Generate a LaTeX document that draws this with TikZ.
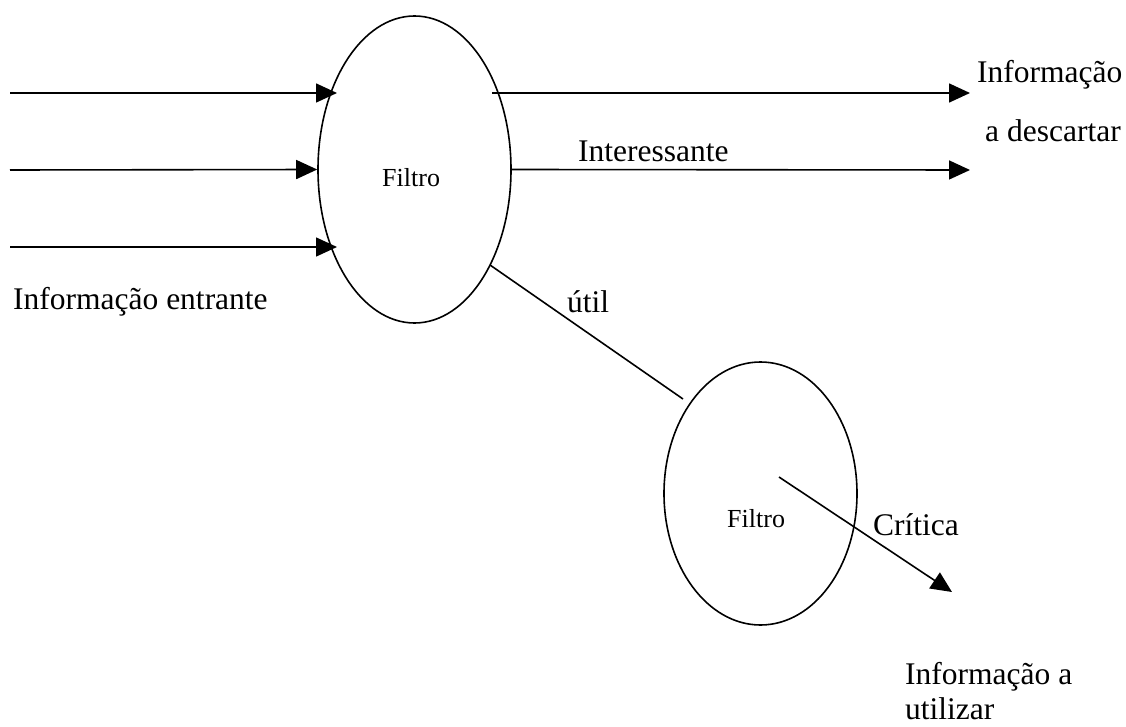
\documentclass[tikz,border=0pt]{standalone}
\usepackage{fontspec}
\setmainfont{Liberation Serif}
\usetikzlibrary{arrows.meta,shapes.geometric}
\begin{document}
\begin{tikzpicture}[x=1pt,y=-1pt,
  flow/.style={line width=1.6pt, -{Triangle[length=21pt,width=19pt]}},
  link/.style={line width=1.6pt},
  filter/.style={ellipse, draw, line width=1.6pt, inner sep=0pt, minimum width=193pt},
  lbl/.style={anchor=base west, inner sep=0pt, font=\fontsize{31.5}{37}\selectfont},
  tag/.style={anchor=base west, inner sep=0pt, font=\fontsize{26}{30}\selectfont}]
\useasboundingbox (0,0) rectangle (1126,727);

% the two filters
\node[filter, minimum height=307pt] (f1) at (414.5,169.5) {};
\node[filter, minimum height=263pt] (f2) at (760.5,493.5) {};
\node[tag] (f1t) at (382,187) {Filtro};
\node[tag] (f2t) at (727,527) {Filtro};

% end points of the flows
\coordinate (in1) at (10,93);
\coordinate (in2) at (10,170);
\coordinate (in3) at (10,247);
\coordinate (in1e) at (337,93);
\coordinate (in3e) at (337,247);
\coordinate (out1s) at (492,93);
\coordinate (out1e) at (970,93);
\coordinate (out2e) at (970,170);
\coordinate (us) at (490,265);
\coordinate (ue) at (683,399);
\coordinate (cs) at (779,477);
\coordinate (ce) at (952,592);

% incoming information
\draw[flow] (in1) -- (in1e);
\draw[flow] (in2) -- (f1.west);
\draw[flow] (in3) -- (in3e);

% outgoing flows
\draw[flow] (out1s) -- (out1e);
\draw[flow] (f1.east) -- (out2e);
\draw[link] (us) -- (ue);
\draw[flow] (cs) -- (ce);

% labels
\node[lbl] (l1) at (977,83) {Informação};
\node[lbl] (l2) at (985,142) {a descartar};
\node[lbl] (l3) at (578,162) {Interessante};
\node[lbl] (l4) at (567,312) {útil};
\node[lbl] (l5) at (13,309) {Informação entrante};
\node[lbl] (l6) at (873,535) {Crítica};
\node[lbl] (l7) at (905,684) {Informação a};
\node[lbl] (l8) at (905,719) {utilizar};
\end{tikzpicture}
\end{document}
